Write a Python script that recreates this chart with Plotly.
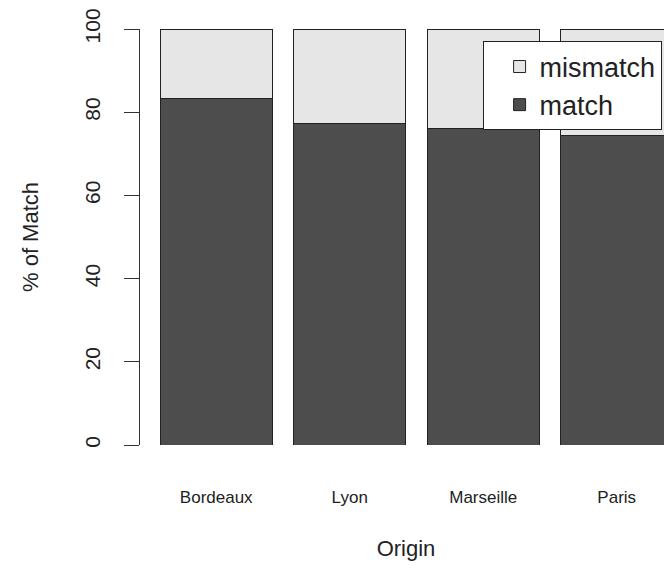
import plotly.graph_objects as go

origins = ["Bordeaux", "Lyon", "Marseille", "Paris"]
match = [83.4, 77.3, 76.1, 74.3]
mismatch = [100 - v for v in match]
y_ticks = [0, 20, 40, 60, 80, 100]

font = "Liberation Sans, Arial, sans-serif"

fig = go.Figure()
fig.add_bar(x=origins, y=match, name="match",
            marker=dict(color="#4D4D4D", line=dict(color="#222222", width=1)))
fig.add_bar(x=origins, y=mismatch, name="mismatch",
            marker=dict(color="#E6E6E6", line=dict(color="#222222", width=1)))

# page body has an 8px margin, so the figure is 8px smaller and shifted
fig.update_layout(
    width=664, height=560,
    barmode="stack", bargap=0.162,
    plot_bgcolor="white", paper_bgcolor="white",
    margin=dict(l=132, r=0, t=18, b=123),
    font=dict(family=font, color="#222222"),
    legend=dict(
        x=0.644, y=0.97, xanchor="left", yanchor="top",
        traceorder="reversed", indentation=16,
        entrywidth=190,
        bgcolor="white", bordercolor="#222222", borderwidth=1,
        font=dict(size=27),
    ),
    xaxis=dict(
        range=[-0.571, 3.414],
        showline=False, ticks="", showgrid=False,
        tickfont=dict(size=17),
        ticklabelstandoff=40,
        title=dict(text="Origin", font=dict(size=22), standoff=34),
    ),
    yaxis=dict(
        range=[0, 100],
        tickvals=y_ticks,
        showline=True, linecolor="#333333", linewidth=1,
        ticks="outside", ticklen=15, tickcolor="#333333",
        tickangle=-90, showgrid=False, zeroline=False,
        tickfont=dict(size=21),
        ticklabelstandoff=16, ticklabeloverflow="allow",
        title=dict(text="% of Match", font=dict(size=22), standoff=35),
    ),
)

fig.write_html("out.html")
